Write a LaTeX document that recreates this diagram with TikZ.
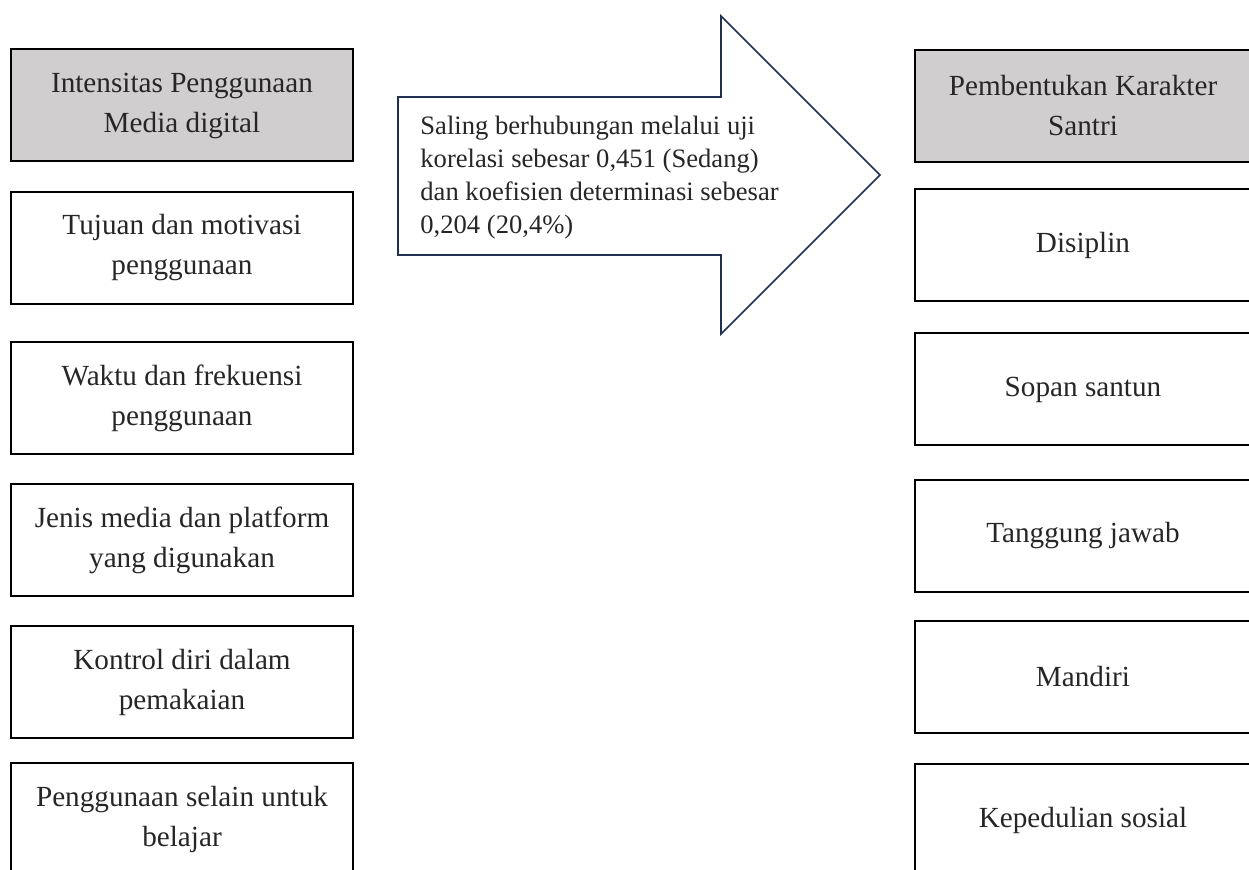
\documentclass[tikz,border=0pt]{standalone}
\usepackage{fontspec}
\setmainfont{Liberation Serif}
\definecolor{headgray}{HTML}{D0CECE}
\definecolor{arrowblue}{HTML}{1F3050}
\definecolor{inkgray}{HTML}{262626}

\begin{document}
\begin{tikzpicture}[x=0.5pt, y=-0.5pt,
  box/.style={draw, line width=1pt, minimum width=171pt, minimum height=56pt, align=center, text=inkgray, font=\fontsize{14.6}{20}\selectfont},
  headbox/.style={box, fill=headgray},
  rbox/.style={box, minimum width=168pt}]
\useasboundingbox (0, 0) rectangle (1249, 870);
\clip (0, 0) rectangle (1249, 870);
\node[headbox] (intens) at (182, 105.5) {Intensitas Penggunaan\\Media digital};
\node[box] (tujuan) at (182, 248) {Tujuan dan motivasi\\penggunaan};
\node[box] (waktu) at (182, 398) {Waktu dan frekuensi\\penggunaan};
\node[box] (jenis) at (182, 540) {Jenis media dan platform\\yang digunakan};
\node[box] (kontrol) at (182, 682) {Kontrol diri dalam\\pemakaian};
\node[box] (selain) at (182, 819) {Penggunaan selain untuk\\belajar};
\node[headbox, rbox] (karakter) at (1083, 106) {Pembentukan Karakter\\Santri};
\node[rbox] (disiplin) at (1083, 245.5) {Disiplin};
\node[rbox] (sopan) at (1083, 389.5) {Sopan santun};
\node[rbox] (tanggung) at (1083, 536) {Tanggung jawab};
\node[rbox] (mandiri) at (1083, 677) {Mandiri};
\node[rbox] (peduli) at (1083, 820) {Kepedulian sosial};
\draw[arrowblue, line width=0.85pt, line join=miter] (398, 97) -- (721, 97) -- (721, 16) -- (880, 175) -- (721, 334) -- (721, 255) -- (398, 255) -- cycle;
\node[anchor=west, align=left, inner sep=0pt, text=inkgray, font=\fontsize{13.3}{16.5}\selectfont] (hasil) at (420, 177.5) {Saling berhubungan melalui uji\\korelasi sebesar 0,451 (Sedang)\\dan koefisien determinasi sebesar\\0,204 (20,4\%)};
\end{tikzpicture}
\end{document}
